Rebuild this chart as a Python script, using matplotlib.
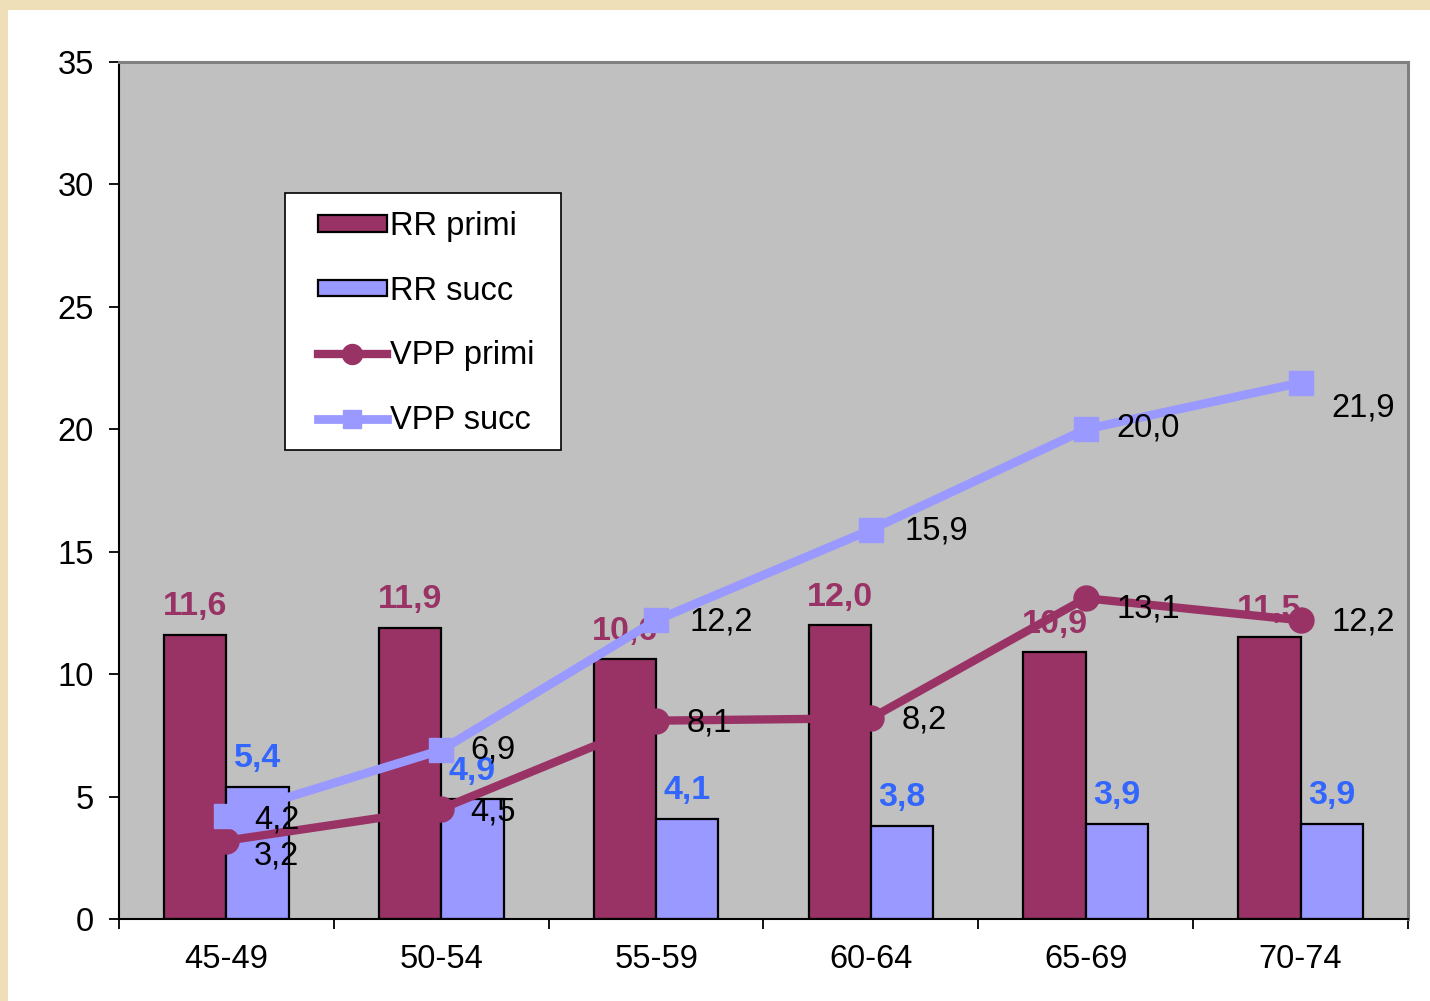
import matplotlib.pyplot as plt
from matplotlib.patches import Rectangle
import numpy as np

plt.rcParams['font.family'] = ['Liberation Sans', 'DejaVu Sans']

# age classes and series
eta = ['45-49', '50-54', '55-59', '60-64', '65-69', '70-74']
rr_primi = [11.6, 11.9, 10.6, 12.0, 10.9, 11.5]
rr_succ = [5.4, 4.9, 4.1, 3.8, 3.9, 3.9]
vpp_primi = [3.2, 4.5, 8.1, 8.2, 13.1, 12.2]
vpp_succ = [4.2, 6.9, 12.2, 15.9, 20.0, 21.9]

# label nudges (points) for the line values
off_primi = [(20, -11), (21, -2), (22, -2), (22, -1), (22, -8), (22, -1)]
off_succ = [(20, -3), (21, 0), (24, -1), (24, -1), (22, 1), (22, -18)]

c_primi = '#993366'
c_succ = '#9999FF'
c_lab_succ = '#3366FF'
fs = 23.5


def fig_xy(px, py):
    # pixel position (from top-left) to figure fraction
    return px / 1430, 1 - py / 1001


fig = plt.figure(figsize=(14.3, 10.01), dpi=100)
fig.patch.set_facecolor('#EFDFB8')
fig.patches.append(Rectangle(fig_xy(8, 1001), 1, 1 - 10 / 1001, transform=fig.transFigure,
                             facecolor='white', edgecolor='none', zorder=-10))

ax = fig.add_axes([119 / 1430, 1 - 919 / 1001, 1289 / 1430, 857 / 1001])
ax.set_facecolor('#C0C0C0')

x = np.arange(len(eta))
w = 0.29
b1 = ax.bar(x - w / 2, rr_primi, w, color=c_primi, edgecolor='black', linewidth=1.6,
            label='RR primi', zorder=2)
b2 = ax.bar(x + w / 2, rr_succ, w, color=c_succ, edgecolor='black', linewidth=1.6,
            label='RR succ', zorder=2)

for xi, v in zip(x, rr_primi):
    ax.annotate(f'{v:.1f}'.replace('.', ','), (xi - w / 2, v), xytext=(0, 9),
                textcoords='offset points', ha='center', va='bottom',
                fontsize=fs + 1, fontweight='bold', color=c_primi, zorder=3)
for xi, v in zip(x, rr_succ):
    ax.annotate(f'{v:.1f}'.replace('.', ','), (xi + w / 2, v), xytext=(0, 9),
                textcoords='offset points', ha='center', va='bottom',
                fontsize=fs + 1, fontweight='bold', color=c_lab_succ, zorder=3)

l1, = ax.plot(x, vpp_primi, color=c_primi, linewidth=6, marker='o', markersize=18,
              label='VPP primi', zorder=4)
l2, = ax.plot(x, vpp_succ, color=c_succ, linewidth=6.3, marker='s', markersize=17,
              label='VPP succ', zorder=4)

for xi, v, o in zip(x, vpp_primi, off_primi):
    ax.annotate(f'{v:.1f}'.replace('.', ','), (xi, v), xytext=o,
                textcoords='offset points', ha='left', va='center',
                fontsize=fs, color='black', zorder=5)
for xi, v, o in zip(x, vpp_succ, off_succ):
    ax.annotate(f'{v:.1f}'.replace('.', ','), (xi, v), xytext=o,
                textcoords='offset points', ha='left', va='center',
                fontsize=fs, color='black', zorder=5)

ax.set_xlim(-0.5, len(eta) - 0.5)
ax.set_ylim(0, 35)
ax.set_yticks(range(0, 36, 5))
ax.set_xticks(x)
ax.set_xticklabels(eta)
ax.set_xticks(np.arange(-0.5, len(eta)), minor=True)
ax.tick_params(axis='x', which='major', length=0, pad=18, labelsize=fs)
ax.tick_params(axis='x', which='minor', length=7, width=1.3, direction='out')
ax.tick_params(axis='y', length=7, width=1.3, direction='out', pad=11, labelsize=fs)

for s in ['left', 'bottom']:
    ax.spines[s].set_color('black')
    ax.spines[s].set_linewidth(1.5)
for s in ['top', 'right']:
    ax.spines[s].set_color('#808080')
    ax.spines[s].set_linewidth(2.2)

# legend box drawn separately so its padding can be set freely
x0, y0 = fig_xy(285, 450)
x1, y1 = fig_xy(561, 193)
ax.add_patch(Rectangle((x0, y0), x1 - x0, y1 - y0, transform=fig.transFigure,
                       facecolor='white', edgecolor='black', linewidth=1.2,
                       zorder=6, clip_on=False))
leg = ax.legend(handles=[b1, b2, l1, l2], loc='upper left',
                bbox_to_anchor=fig_xy(318, 211), bbox_transform=fig.transFigure,
                fontsize=fs, frameon=False, handlelength=2.1, handleheight=0.4,
                handletextpad=0.1, labelspacing=1.03, borderpad=0,
                borderaxespad=0, markerscale=0.8)
leg.set_zorder(7)

fig.savefig('out.png', dpi=100, facecolor=fig.get_facecolor())
